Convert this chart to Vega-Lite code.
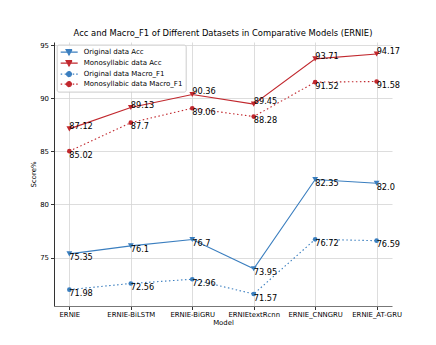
{
  "$schema": "https://vega.github.io/schema/vega-lite/v6.json",
  "width": 338,
  "height": 264,
  "autosize": {"type": "none"},
  "padding": {"left": 54, "top": 42, "right": 44, "bottom": 39},
  "background": "white",
  "title": {"text": "Acc and Macro_F1 of Different Datasets in Comparative Models (ERNIE)", "font": "DejaVu Sans", "fontSize": 8.4, "fontWeight": "normal", "color": "#000", "anchor": "middle", "offset": 4},
  "config": {
    "font": "DejaVu Sans",
    "view": {"stroke": null},
    "axis": {"gridColor": "#d4d4d4", "gridWidth": 0.8, "tickColor": "#333", "tickSize": 3.5, "labelColor": "#000", "titleColor": "#000", "labelFontSize": 6.9, "titleFontSize": 6.9, "titleFontWeight": "normal", "labelFont": "DejaVu Sans", "titleFont": "DejaVu Sans", "domainColor": "#333"}
  },
  "data": {"values": [
    {"model": "ERNIE", "series": "Original data Acc", "value": 75.35, "label": "75.35"},
    {"model": "ERNIE-BiLSTM", "series": "Original data Acc", "value": 76.1, "label": "76.1"},
    {"model": "ERNIE-BiGRU", "series": "Original data Acc", "value": 76.7, "label": "76.7"},
    {"model": "ERNIEtextRcnn", "series": "Original data Acc", "value": 73.95, "label": "73.95"},
    {"model": "ERNIE_CNNGRU", "series": "Original data Acc", "value": 82.35, "label": "82.35"},
    {"model": "ERNIE_AT-GRU", "series": "Original data Acc", "value": 82.0, "label": "82.0"},
    {"model": "ERNIE", "series": "Monosyllabic data Acc", "value": 87.12, "label": "87.12"},
    {"model": "ERNIE-BiLSTM", "series": "Monosyllabic data Acc", "value": 89.13, "label": "89.13"},
    {"model": "ERNIE-BiGRU", "series": "Monosyllabic data Acc", "value": 90.36, "label": "90.36"},
    {"model": "ERNIEtextRcnn", "series": "Monosyllabic data Acc", "value": 89.45, "label": "89.45"},
    {"model": "ERNIE_CNNGRU", "series": "Monosyllabic data Acc", "value": 93.71, "label": "93.71"},
    {"model": "ERNIE_AT-GRU", "series": "Monosyllabic data Acc", "value": 94.17, "label": "94.17"},
    {"model": "ERNIE", "series": "Original data Macro_F1", "value": 71.98, "label": "71.98"},
    {"model": "ERNIE-BiLSTM", "series": "Original data Macro_F1", "value": 72.56, "label": "72.56"},
    {"model": "ERNIE-BiGRU", "series": "Original data Macro_F1", "value": 72.96, "label": "72.96"},
    {"model": "ERNIEtextRcnn", "series": "Original data Macro_F1", "value": 71.57, "label": "71.57"},
    {"model": "ERNIE_CNNGRU", "series": "Original data Macro_F1", "value": 76.72, "label": "76.72"},
    {"model": "ERNIE_AT-GRU", "series": "Original data Macro_F1", "value": 76.59, "label": "76.59"},
    {"model": "ERNIE", "series": "Monosyllabic data Macro_F1", "value": 85.02, "label": "85.02"},
    {"model": "ERNIE-BiLSTM", "series": "Monosyllabic data Macro_F1", "value": 87.7, "label": "87.7"},
    {"model": "ERNIE-BiGRU", "series": "Monosyllabic data Macro_F1", "value": 89.06, "label": "89.06"},
    {"model": "ERNIEtextRcnn", "series": "Monosyllabic data Macro_F1", "value": 88.28, "label": "88.28"},
    {"model": "ERNIE_CNNGRU", "series": "Monosyllabic data Macro_F1", "value": 91.52, "label": "91.52"},
    {"model": "ERNIE_AT-GRU", "series": "Monosyllabic data Macro_F1", "value": 91.58, "label": "91.58"}
  ]},
  "encoding": {
    "x": {"field": "model", "type": "nominal", "sort": null,
      "scale": {"type": "point", "padding": 0.25},
      "axis": {"title": "Model", "labelAngle": 0, "grid": true, "labelPadding": 2, "titlePadding": 2, "domainColor": "#777", "domainWidth": 1}},
    "y": {"field": "value", "type": "quantitative",
      "scale": {"domain": [70.44, 95.3], "nice": false, "zero": false},
      "axis": {"title": "Score%", "values": [75, 80, 85, 90, 95], "grid": true, "labelPadding": 2, "titlePadding": 3}},
    "color": {"field": "series", "type": "nominal",
      "scale": {"domain": ["Original data Acc", "Monosyllabic data Acc", "Original data Macro_F1", "Monosyllabic data Macro_F1"], "range": ["#3a7ebf", "#c1272d", "#3a7ebf", "#c1272d"]},
      "legend": {"title": null, "orient": "none", "legendX": 2.7, "legendY": 2.6, "strokeColor": "#cccccc", "fillColor": "rgba(255,255,255,0.85)", "cornerRadius": 2, "padding": 2.5, "rowPadding": 0, "labelFontSize": 7, "labelFont": "DejaVu Sans", "labelColor": "#000", "labelOffset": 14.5, "labelLimit": 300, "symbolSize": 36,
        "encode": {"symbols": {"update": {
          "shape": {"signal": "indexof(datum.value, 'Acc') >= 0 ? 'M-0.875,0H3.375M0.45,-0.65H1.95L1.2,0.75Z' : 'M-0.875,0H-0.5M0.125,0H0.5M2.125,0H2.5M3,0H3.375M0.58,0A0.62,0.62 0 1,0 1.82,0A0.62,0.62 0 1,0 0.58,0Z'"},
          "size": {"value": 64},
          "stroke": {"scale": "color", "field": "value"},
          "fill": {"scale": "color", "field": "value"},
          "strokeWidth": {"value": 1.1},
          "strokeDash": {"value": [1, 0]},
          "opacity": {"value": 1}
        }}}}}
  },
  "layer": [
    {
      "transform": [{"filter": "indexof(datum.series, 'Acc') >= 0"}],
      "mark": {"type": "line", "strokeWidth": 1.1},
      "encoding": {}
    },
    {
      "transform": [{"filter": "indexof(datum.series, 'Macro_F1') >= 0"}],
      "mark": {"type": "line", "strokeWidth": 1.1, "strokeDash": [1.5, 2.5]},
      "encoding": {}
    },
    {
      "transform": [{"filter": "indexof(datum.series, 'Acc') >= 0"}],
      "mark": {"type": "point", "filled": true, "opacity": 1, "shape": "triangle-down", "size": 34},
      "encoding": {}
    },
    {
      "transform": [{"filter": "indexof(datum.series, 'Macro_F1') >= 0"}],
      "mark": {"type": "point", "filled": true, "opacity": 1, "shape": "circle", "size": 22},
      "encoding": {}
    },
    {
      "transform": [{"filter": "datum.series === 'Monosyllabic data Acc'"}],
      "mark": {"type": "text", "align": "left", "baseline": "alphabetic", "fontSize": 8.2, "dx": 0, "dy": 0},
      "encoding": {"text": {"field": "label", "type": "nominal"}, "color": {"value": "#000"}}
    },
    {
      "transform": [{"filter": "datum.series !== 'Monosyllabic data Acc'"}],
      "mark": {"type": "text", "align": "left", "baseline": "top", "fontSize": 8.2, "dx": 0, "dy": 0.5},
      "encoding": {"text": {"field": "label", "type": "nominal"}, "color": {"value": "#000"}}
    }
  ]
}
